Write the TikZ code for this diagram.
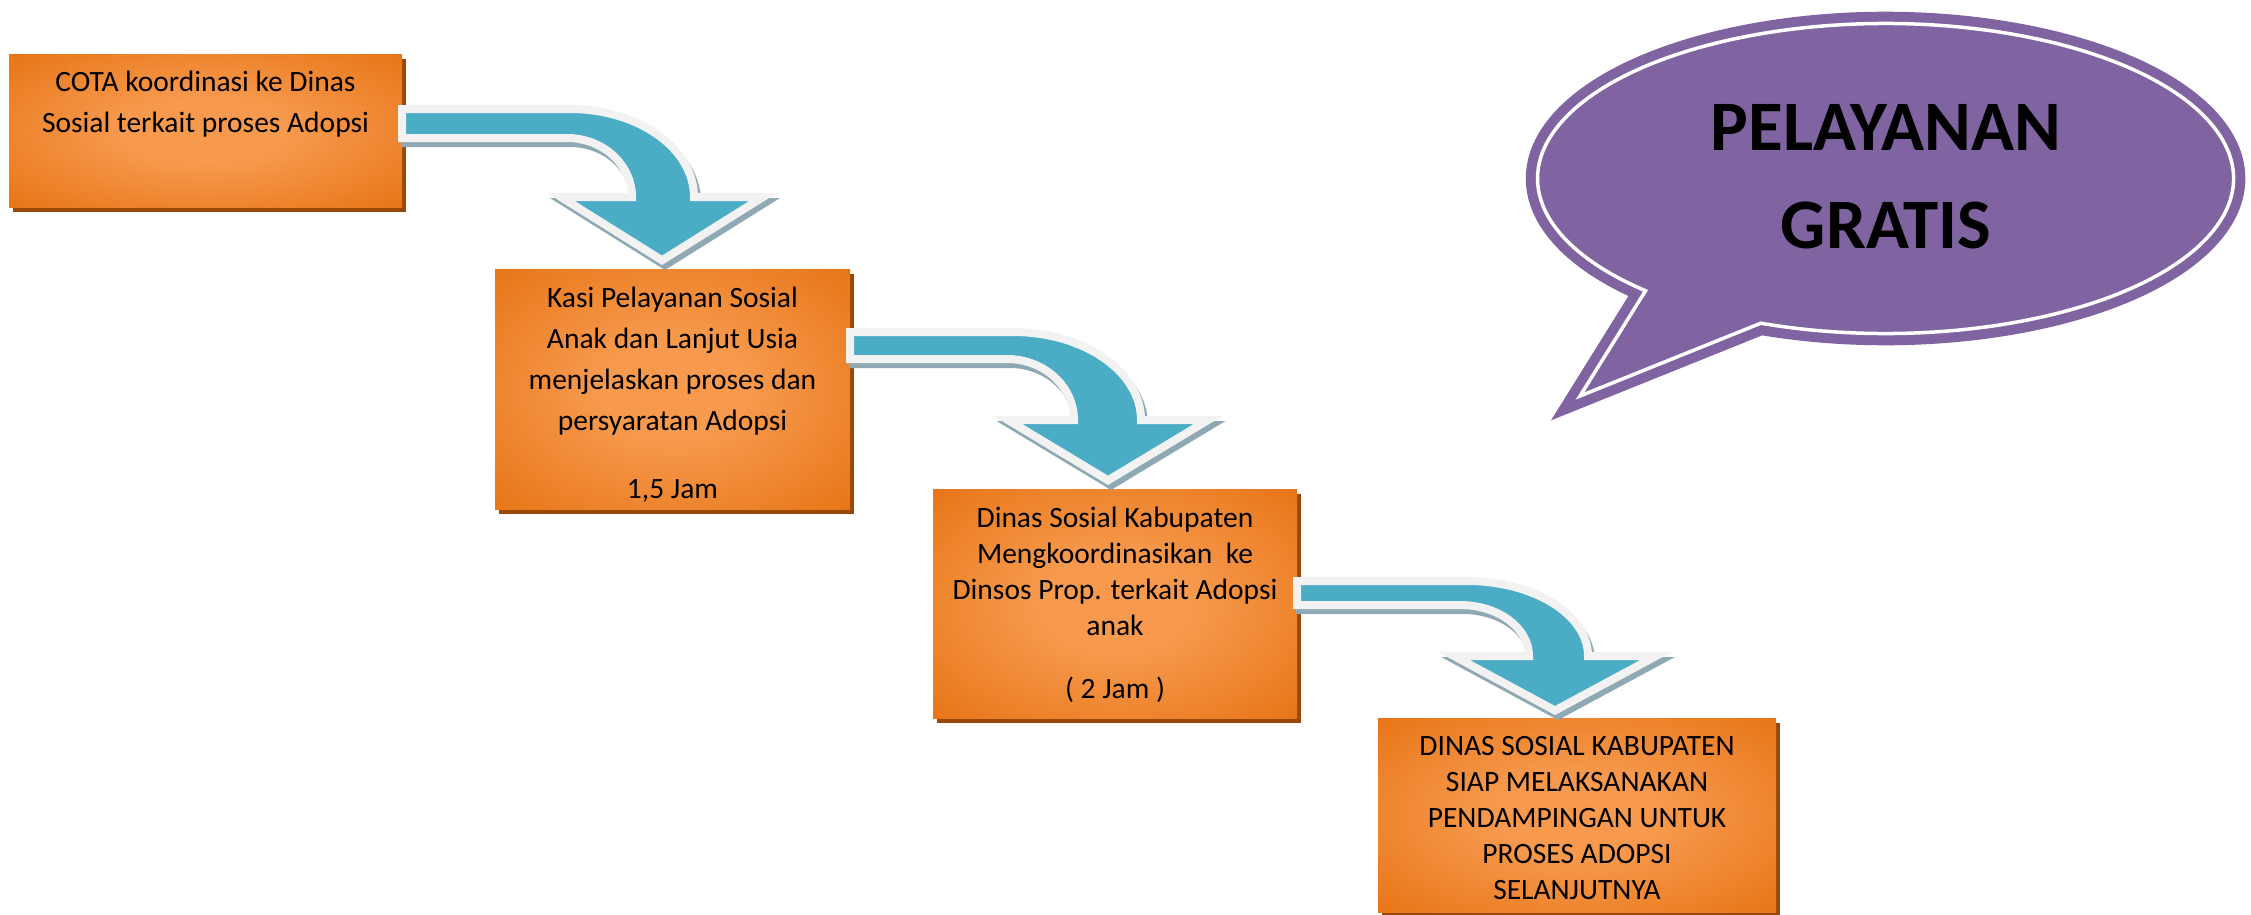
\documentclass[tikz,border=0pt]{standalone}
\usepackage{fontspec}
\setmainfont{Carlito}
\usetikzlibrary{shadows}
\definecolor{boxdark}{HTML}{E36C09}
\definecolor{boxlight}{HTML}{F79A4E}
\definecolor{boxshadow}{HTML}{984807}
\definecolor{arrowblue}{HTML}{4BACC6}
\definecolor{arrowline}{HTML}{F2F2F2}
\definecolor{arrowshade}{HTML}{8FA9B4}
\definecolor{bubblepurple}{HTML}{8064A2}
\pgfdeclareradialshading{boxshade}{\pgfpoint{0bp}{0bp}}{color(0bp)=(boxlight); color(10bp)=(boxlight); color(42bp)=(boxdark); color(50bp)=(boxdark)}
\newcommand\arrowone[1]{\draw[#1] (402,109) -- (570,109) .. controls (638.4,109) and (694,148.4) .. (694,197) -- (763.1,197) -- (662,260.3) -- (560.9,197) -- (632,197) .. controls (632,164.4) and (602.9,138) .. (567,138) -- (402,138) -- cycle;}
\newcommand\arrowtwo[1]{\draw[#1] (850,332) -- (1013,332) .. controls (1083.7,332) and (1141,371.4) .. (1141,420) -- (1208.1,420) -- (1108,480.3) -- (1007.9,420) -- (1074,420) .. controls (1074,386.3) and (1044,359) .. (1007,359) -- (850,359) -- cycle;}
\newcommand\arrowthree[1]{\draw[#1] (1297,581) -- (1467,581) .. controls (1533.8,581) and (1588,614.6) .. (1588,656) -- (1656.1,656) -- (1555,710.5) -- (1453.9,656) -- (1529,656) .. controls (1529,627.8) and (1498.1,605) .. (1460,605) -- (1297,605) -- cycle;}
\begin{document}
\begin{tikzpicture}[x=1pt,y=-1pt,
  stepbox/.style={rectangle, inner sep=0pt, outer sep=0pt, anchor=north west, shade, shading=boxshade,
    drop shadow={shadow xshift=4pt, shadow yshift=-5pt, opacity=1, fill=boxshadow}},
  boxtext/.style={align=center, inner sep=0pt, anchor=north, text=black},
  wide/.style={font=\fontsize{29.5}{41}\selectfont},
  narrow/.style={font=\fontsize{29.5}{36}\selectfont},
  arrowshadow/.style={fill=arrowshade, draw=arrowshade, line width=8pt},
  arrowmain/.style={fill=arrowblue, draw=arrowline, line width=8pt},
  bubble/.style={fill=bubblepurple, draw=bubblepurple, line width=10pt, double=white, double distance=3.5pt},
  bubbletext/.style={align=center, inner sep=0pt, anchor=north, font=\bfseries\fontsize{71}{98}\selectfont}]
\useasboundingbox (0,0) rectangle (2251,914);
\fill[white] (0,0) rectangle (2251,914);

% speech bubble
\draw[bubble] (1760.8,323.2) arc[start angle=111, end angle=-226.4, x radius=348, y radius=155] -- (1580,396) -- cycle;
\node[bubbletext] (gratis) at (1886,81.4) {\strut PELAYANAN\\GRATIS};

% boxes
\node[stepbox, minimum width=393pt, minimum height=153pt] (b1) at (9,54) {};
\node[stepbox, minimum width=355pt, minimum height=240pt] (b2) at (495,269) {};
\node[stepbox, minimum width=364pt, minimum height=229pt] (b3) at (933,489) {};
\node[stepbox, minimum width=398pt, minimum height=194pt] (b4) at (1378,718) {};

\node[boxtext, wide] (t1) at (205.5,62.3) {\strut COTA koordinasi ke Dinas\\Sosial terkait proses Adopsi};
\node[boxtext, wide] (t2) at (672.5,278.3) {\strut Kasi Pelayanan Sosial\\Anak dan Lanjut Usia\\menjelaskan proses dan\\persyaratan Adopsi\\[27pt]1,5 Jam};
\node[boxtext, narrow] (t3) at (1115,501.8) {\strut Dinas Sosial Kabupaten\\Mengkoordinasikan\ \ ke\\Dinsos Prop. terkait Adopsi\\anak\\[27pt]( 2 Jam )};
\node[boxtext, narrow] (t4) at (1577,729.8) {\strut DINAS SOSIAL KABUPATEN\\SIAP MELAKSANAKAN\\PENDAMPINGAN UNTUK\\PROSES ADOPSI\\SELANJUTNYA};

% curved arrows
\arrowone{arrowshadow, shift={(3,5)}}
\arrowone{arrowmain}
\arrowtwo{arrowshadow, shift={(3,5)}}
\arrowtwo{arrowmain}
\arrowthree{arrowshadow, shift={(3,5)}}
\arrowthree{arrowmain}
\end{tikzpicture}
\end{document}
